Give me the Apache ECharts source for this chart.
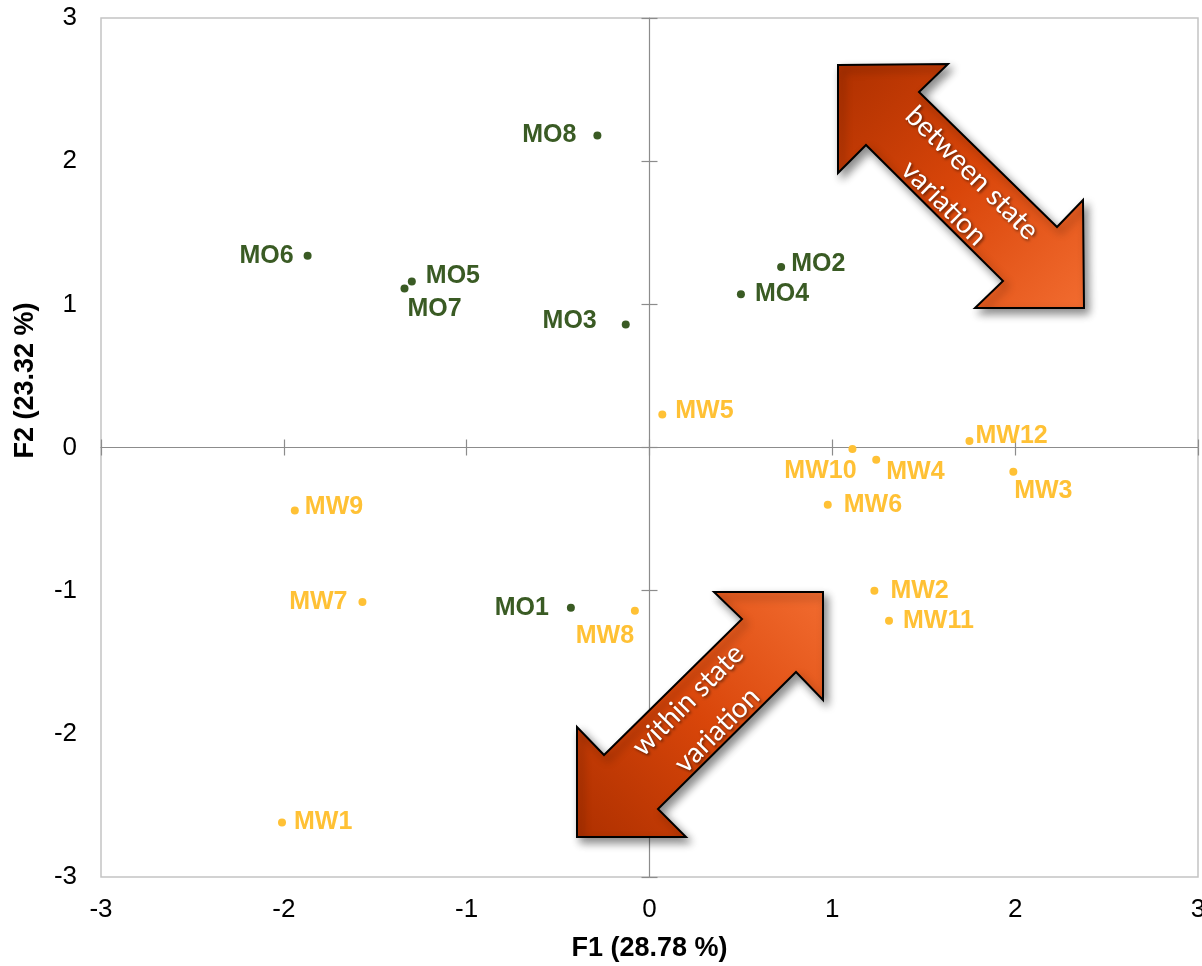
<!DOCTYPE html>
<html>
<head>
<meta charset="utf-8">
<title>PCA F1 / F2</title>
<script src="https://cdn.jsdelivr.net/npm/echarts@6/dist/echarts.min.js"></script>
<style>
  html, body { margin: 0; padding: 0; background: #fff; }
  #chart { width: 1202px; height: 966px; }
</style>
</head>
<body>
<div id="chart"></div>
<script>
// Observations scored on the first two factors
const moNames = ['MO1', 'MO2', 'MO3', 'MO4', 'MO5', 'MO6', 'MO7', 'MO8'];
const moF1 = [-0.43, 0.72, -0.13, 0.50, -1.30, -1.87, -1.34, -0.285];
const moF2 = [-1.12, 1.26, 0.86, 1.07, 1.16, 1.34, 1.11, 2.18];

const mwNames = ['MW1', 'MW2', 'MW3', 'MW4', 'MW5', 'MW6', 'MW7', 'MW8', 'MW9', 'MW10', 'MW11', 'MW12'];
const mwF1 = [-2.01, 1.23, 1.99, 1.24, 0.07, 0.975, -1.57, -0.08, -1.94, 1.11, 1.31, 1.75];
const mwF2 = [-2.62, -1.00, -0.17, -0.085, 0.23, -0.40, -1.08, -1.14, -0.44, -0.01, -1.21, 0.045];

const axisTicks = [-3, -2, -1, 0, 1, 2, 3];
const xTitle = 'F1 (28.78 %)';
const yTitle = 'F2 (23.32 %)';

// Where each point label sits relative to its dot
const labelPlacement = {
  MO1: { position: 'left', distance: 18 },
  MO2: { position: 'right', distance: 6, offset: [0, -3] },
  MO3: { position: 'left', distance: 25, offset: [0, -3] },
  MO4: { position: 'right', distance: 10 },
  MO5: { position: 'right', distance: 10, offset: [0, -5] },
  MO6: { position: 'left', distance: 10 },
  MO7: { position: 'bottom', distance: 4, offset: [30, 0] },
  MO8: { position: 'left', distance: 17 },
  MW1: { position: 'right', distance: 8 },
  MW2: { position: 'right', distance: 12 },
  MW3: { position: 'bottom', distance: 3, offset: [30, 0] },
  MW4: { position: 'right', distance: 6, offset: [0, 12] },
  MW5: { position: 'right', distance: 9, offset: [0, -3] },
  MW6: { position: 'right', distance: 12 },
  MW7: { position: 'left', distance: 11 },
  MW8: { position: 'bottom', distance: 9, offset: [-30, 0] },
  MW9: { position: 'right', distance: 6, offset: [0, -3] },
  MW10: { position: 'bottom', distance: 6, offset: [-32, 0] },
  MW11: { position: 'right', distance: 10 },
  MW12: { position: 'right', distance: 2, offset: [0, -5] }
};

const GREEN = '#3a5b24';
const GOLD = '#ffc135';
const FONT = '"Liberation Sans", Arial, sans-serif';

function buildPoints(names, xs, ys) {
  return names.map((n, i) => {
    const p = labelPlacement[n];
    return {
      name: n,
      value: [xs[i], ys[i]],
      label: { position: p.position, distance: p.distance, offset: p.offset || [0, 0] }
    };
  });
}

const chart = echarts.init(document.getElementById('chart'), null, { renderer: 'canvas' });

const valueRange = { type: 'value', min: axisTicks[0], max: axisTicks[axisTicks.length - 1], interval: 1 };

// Cross ticks on the zero lines: one axis draws the outer half, another the inner half
function zeroAxis(inside, showLine) {
  return Object.assign({}, valueRange, {
    axisLine: { show: showLine, onZero: true, onZeroAxisIndex: 0, lineStyle: { color: '#8c8c8c', width: 1.2 } },
    axisTick: { show: true, inside: inside, length: 8, lineStyle: { color: '#8c8c8c', width: 1.2 } },
    axisLabel: { show: false },
    splitLine: { show: false }
  });
}

// Double-headed arrows annotating the two kinds of variation
const betweenArrow = [[838, 65], [948, 64], [919, 92], [1057, 227], [1083, 200], [1084, 308], [975, 308], [1003, 281], [866, 145], [838, 173]];
const withinArrow = [[823, 592], [714, 592], [742, 619], [604, 755], [577, 727], [577, 837], [686, 837], [658, 809], [796, 672], [823, 700]];

function arrowShape(points, gradient) {
  return {
    type: 'polygon',
    z: 100,
    shape: { points: points },
    style: {
      fill: gradient,
      stroke: '#000',
      lineWidth: 2,
      shadowBlur: 8,
      shadowOffsetX: 4,
      shadowOffsetY: 5,
      shadowColor: 'rgba(0,0,0,0.45)'
    }
  };
}

function arrowText(text, x, y, rotation) {
  return {
    type: 'text',
    z: 101,
    x: x,
    y: y,
    rotation: rotation,
    style: {
      text: text,
      x: 0,
      y: 0,
      align: 'center',
      verticalAlign: 'middle',
      fill: '#fff',
      font: '28px Lato, "Open Sans", sans-serif',
      textShadowColor: 'rgba(0,0,0,0.55)',
      textShadowBlur: 3,
      textShadowOffsetX: 1.5,
      textShadowOffsetY: 1.5
    }
  };
}

function pointSeries(name, color, data) {
  return {
    name: name,
    type: 'scatter',
    xAxisIndex: 0,
    yAxisIndex: 0,
    symbolSize: 8,
    itemStyle: { color: color, opacity: 1 },
    label: {
      show: true,
      formatter: '{b}',
      color: color,
      fontSize: 25,
      fontWeight: 'bold',
      fontFamily: FONT
    },
    data: data
  };
}

const option = {
  backgroundColor: '#ffffff',
  animation: false,
  grid: {
    left: 101, right: 4, top: 18, bottom: 89,
    show: true,
    borderColor: '#c4c4c4',
    borderWidth: 1.5,
    containLabel: false,
    outerBoundsMode: 'none'
  },
  xAxis: [
    Object.assign({}, valueRange, {
      position: 'bottom',
      axisLine: { show: false, onZero: false },
      axisTick: { show: false },
      splitLine: { show: false },
      axisLabel: { color: '#000', fontSize: 26, fontFamily: FONT, margin: 20 },
      name: xTitle,
      nameLocation: 'middle',
      nameGap: 58,
      nameTextStyle: { color: '#000', fontSize: 27, fontWeight: 'bold', fontFamily: FONT }
    }),
    Object.assign(zeroAxis(false, true), { position: 'bottom' }),
    Object.assign(zeroAxis(true, false), { position: 'bottom' })
  ],
  yAxis: [
    Object.assign({}, valueRange, {
      position: 'left',
      axisLine: { show: false, onZero: false },
      axisTick: { show: false },
      splitLine: { show: false },
      axisLabel: { color: '#000', fontSize: 26, fontFamily: FONT, margin: 24 },
      name: yTitle,
      nameLocation: 'middle',
      nameRotate: 90,
      nameGap: 62,
      nameTextStyle: { color: '#000', fontSize: 27, fontWeight: 'bold', fontFamily: FONT, padding: [0, 0, 0, 134] }
    }),
    Object.assign(zeroAxis(false, true), { position: 'left' }),
    Object.assign(zeroAxis(true, false), { position: 'left' })
  ],
  series: [
    pointSeries('MO', GREEN, buildPoints(moNames, moF1, moF2)),
    pointSeries('MW', GOLD, buildPoints(mwNames, mwF1, mwF2))
  ],
  graphic: [
    arrowShape(betweenArrow, new echarts.graphic.LinearGradient(0, 0, 1, 1, [
      { offset: 0, color: '#ae3000' },
      { offset: 0.5, color: '#d9460a' },
      { offset: 1, color: '#f26c30' }
    ])),
    arrowText('between state', 972, 173, -Math.PI / 4),
    arrowText('variation', 944, 203, -Math.PI / 4),
    arrowShape(withinArrow, new echarts.graphic.LinearGradient(0, 1, 1, 0, [
      { offset: 0, color: '#ae3000' },
      { offset: 0.5, color: '#d9460a' },
      { offset: 1, color: '#f26c30' }
    ])),
    arrowText('within state', 688, 700, Math.PI / 4),
    arrowText('variation', 717, 730, Math.PI / 4)
  ]
};

chart.setOption(option);
</script>
</body>
</html>
